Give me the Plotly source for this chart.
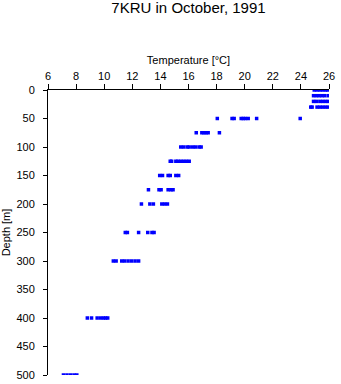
import plotly.graph_objects as go

# Depth levels (m) and temperatures (°C)
depth_m = (
    [0] * 6 + [10] * 6 + [20] * 6 + [30] * 7 +
    [50] * 9 + [75] * 6 + [100] * 8 + [125] * 8 + [150] * 6 +
    [175] * 6 + [200] * 6 + [250] * 6 + [300] * 8 + [400] * 7 + [500] * 5
)
temp_c = (
    [24.95, 25.15, 25.35, 25.55, 25.75, 25.9] +
    [24.9, 25.1, 25.3, 25.5, 25.7, 25.95] +
    [24.9, 25.1, 25.35, 25.55, 25.75, 25.95] +
    [24.7, 24.8, 25.15, 25.35, 25.55, 25.75, 25.95] +
    [18.05, 19.1, 19.25, 19.75, 19.9, 20.05, 20.25, 20.85, 23.95] +
    [16.55, 16.95, 17.1, 17.25, 17.4, 18.2] +
    [15.45, 15.65, 15.9, 16.05, 16.3, 16.5, 16.75, 16.9] +
    [14.7, 14.8, 15.1, 15.25, 15.45, 15.65, 15.85, 16.05] +
    [13.95, 14.15, 14.55, 14.7, 15.1, 15.3] +
    [13.15, 13.9, 14.05, 14.55, 14.75, 14.9] +
    [12.65, 13.25, 13.5, 14.1, 14.3, 14.5] +
    [11.5, 11.65, 12.45, 13.1, 13.4, 13.55] +
    [10.65, 10.85, 11.25, 11.45, 11.7, 11.95, 12.2, 12.45] +
    [8.8, 9.1, 9.5, 9.75, 9.95, 10.1, 10.25] +
    [7.1, 7.35, 7.6, 7.85, 8.05]
)

x_ticks = [6, 8, 10, 12, 14, 16, 18, 20, 22, 24, 26]
y_ticks = [0, 50, 100, 150, 200, 250, 300, 350, 400, 450, 500]

FONT = "Liberation Sans, Arial, Helvetica, sans-serif"

fig = go.Figure(
    go.Scatter(
        x=temp_c, y=depth_m, mode="markers",
        marker=dict(symbol="square", size=3.5, color="#0000FF", line=dict(width=0)),
        showlegend=False,
    )
)

fig.update_layout(
    width=341, height=384,
    margin=dict(l=48, r=12, t=90, b=9),
    paper_bgcolor="white", plot_bgcolor="white",
    font=dict(family=FONT, size=11, color="black"),
    title=dict(text="7KRU in October, 1991", x=0.5, xref="paper", y=0.98, yanchor="middle",
               font=dict(family=FONT, size=15, color="black")),
)

fig.update_xaxes(
    side="top", range=[6, 26], tickvals=x_ticks, ticktext=[str(v) for v in x_ticks],
    showgrid=False, zeroline=False, showline=True, linecolor="black", linewidth=1,
    ticks="outside", ticklen=5, tickcolor="black", tickwidth=1,
    tickfont=dict(family=FONT, size=11), automargin=False,
    title=dict(text="Temperature [°C]", font=dict(family=FONT, size=11), standoff=2),
)
fig.update_yaxes(
    range=[500, 0], tickvals=y_ticks, ticktext=[str(v) for v in y_ticks],
    showgrid=False, zeroline=False, showline=True, linecolor="black", linewidth=1,
    ticks="outside", ticklen=4, tickcolor="black", tickwidth=1,
    tickfont=dict(family=FONT, size=11), ticklabelstandoff=6, automargin=False,
    title=dict(text="Depth [m]", font=dict(family=FONT, size=11), standoff=4),
)

fig.write_html("out.html")
